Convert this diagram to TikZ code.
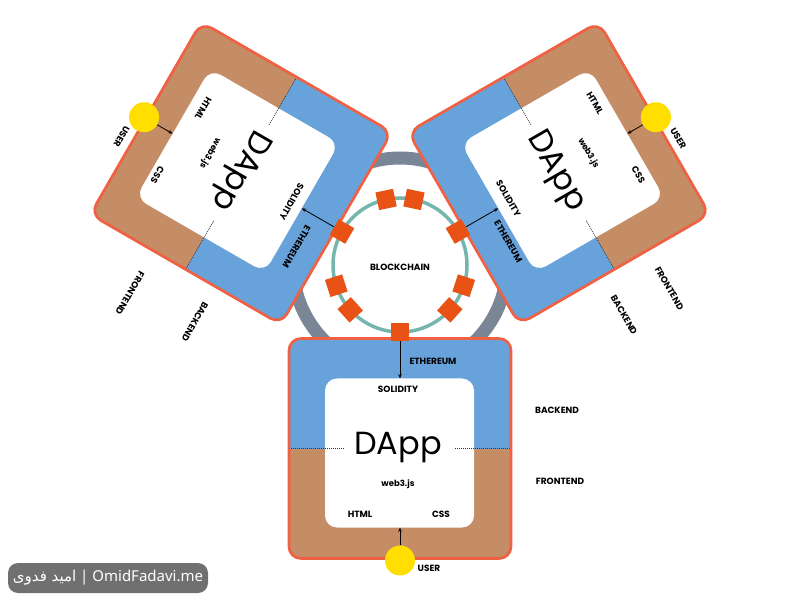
\documentclass[tikz,border=0pt]{standalone}
\usepackage{fontspec}
\setmainfont{Poppins}
\newfontfamily\wmfont{Noto Sans}
\newfontfamily\arabicfont[Script=Arabic]{DejaVu Sans}
\TeXXeTstate=1
\usetikzlibrary{arrows.meta,calc}
\definecolor{bandblue}{RGB}{104,162,218}
\definecolor{bandbrown}{RGB}{196,141,101}
\definecolor{rimc}{RGB}{240,96,66}
\definecolor{blockor}{RGB}{232,82,20}
\definecolor{tealc}{RGB}{116,182,172}
\definecolor{ringgray}{RGB}{122,134,150}
\definecolor{usery}{RGB}{255,222,0}
\definecolor{wmgray}{RGB}{112,112,112}
\tikzset{
  lab/.style={font=\bfseries\fontsize{9}{10}\selectfont, inner sep=0pt},
  smalllab/.style={font=\bfseries\fontsize{8.5}{10}\selectfont, inner sep=0pt},
  bigtitle/.style={font=\fontsize{32}{36}\selectfont, inner sep=0pt},
  blockbox/.style={rectangle, fill=blockor, minimum size=18pt, inner sep=0pt},
  usercirc/.style={circle, fill=usery, minimum size=30pt, inner sep=0pt},
  conn/.style={-{Stealth[length=4.5pt,width=3.5pt]}, line width=0.8pt, black},
  divider/.style={line width=0.7pt, dash pattern=on 1pt off 1pt, black!80},
  rimline/.style={draw=rimc, line width=2.7pt, rounded corners=12pt},
  wmbox/.style={rectangle, rounded corners=10pt, fill=wmgray, text=white,
    minimum width=200pt, minimum height=30pt, inner sep=0pt,
    font=\wmfont\fontsize{15}{17}\selectfont}
}
\newcommand\dappunit[3]{%
  \begin{scope}[shift={(400,335)}, rotate=#1, shift={(0,-183.5)}, xscale=#2]
    \begin{scope}
      \clip[rounded corners=12pt] (-111,-110) rectangle (111,110);
      \fill[bandbrown] (-111,-110) rectangle (111,0);
      \fill[bandblue] (-111,0) rectangle (111,110);
    \end{scope}
    \fill[white, rounded corners=12pt] (-75,-79) rectangle (74,70);
    \draw[divider] (-111,0) -- (-55,0) (55,0) -- (111,0);
    \draw[rimline] (-111,-110) rectangle (111,110);
    \coordinate (#3-it) at (0,70);
    \coordinate (#3-ib) at (0,-79);
    \node[usercirc] (#3-u) at (0,-112) {};
    \draw[conn] (#3-u) -- (#3-ib);
  \end{scope}}
\begin{document}
\begin{tikzpicture}[x=1pt,y=1pt]
\useasboundingbox (0,0) rectangle (800,600);
\coordinate (C) at (400,335);
\draw[ringgray, line width=13pt] (C) circle (107);
\draw[tealc, line width=3.5pt] (C) circle (67);
\node[lab] (bc) at (400,333) {BLOCKCHAIN};

\dappunit{0}{1}{bot}
\dappunit{-120}{1}{tl}
\dappunit{120}{-1}{tr}

\foreach \a in {30,78,102,150,198,222,270,318,342}
  \node[blockbox, rotate=\a] (blk\a) at ($(C)+(\a:67)$) {};
\draw[conn] (blk270) -- (bot-it);
\draw[conn] (blk150) -- (tl-it);
\draw[conn] (blk30) -- (tr-it);

% bottom unit labels
\node[lab] (b-eth) at (433,239) {ETHEREUM};
\node[lab] (b-sol) at (398,211) {SOLIDITY};
\node[bigtitle] (b-dapp) at (398,152) {DApp};
\node[smalllab] (b-web) at (398,116) {web3.js};
\node[lab] (b-html) at (360,86) {HTML};
\node[lab] (b-css) at (441,86) {CSS};
\node[lab] (b-user) at (429,32) {USER};
\node[lab] (b-back) at (557,190) {BACKEND};
\node[lab] (b-front) at (560,119) {FRONTEND};

% top-left unit labels
\begin{scope}[every node/.append style={rotate=-120}]
\node[lab] (l-eth) at (296.7,353.3) {ETHEREUM};
\node[lab] (l-sol) at (291.7,398.3) {SOLIDITY};
\node[bigtitle] (l-dapp) at (240,430) {DApp};
\node[smalllab] (l-web) at (210,446.7) {web3.js};
\node[lab] (l-html) at (203.3,491.7) {HTML};
\node[lab] (l-css) at (157.3,425) {CSS};
\node[lab] (l-user) at (121.7,463.3) {USER};
\node[lab] (l-back) at (195,278.3) {BACKEND};
\node[lab] (l-front) at (130,306.7) {FRONTEND};
\end{scope}

% top-right unit labels
\begin{scope}[every node/.append style={rotate=-60}]
\node[lab] (r-eth) at (508.3,358.3) {ETHEREUM};
\node[lab] (r-sol) at (508.3,401.7) {SOLIDITY};
\node[bigtitle] (r-dapp) at (555,428.3) {DApp};
\node[smalllab] (r-web) at (588.3,446.7) {web3.js};
\node[lab] (r-html) at (595,496.7) {HTML};
\node[lab] (r-css) at (638.3,425) {CSS};
\node[lab] (r-user) at (678.3,461.7) {USER};
\node[lab] (r-back) at (624,285) {BACKEND};
\node[lab] (r-front) at (669.3,311.7) {FRONTEND};
\end{scope}

\node[wmbox] (wm) at (108,22) {{\arabicfont\beginR امید فدوی\endR}\ | OmidFadavi.me};
\end{tikzpicture}
\end{document}
